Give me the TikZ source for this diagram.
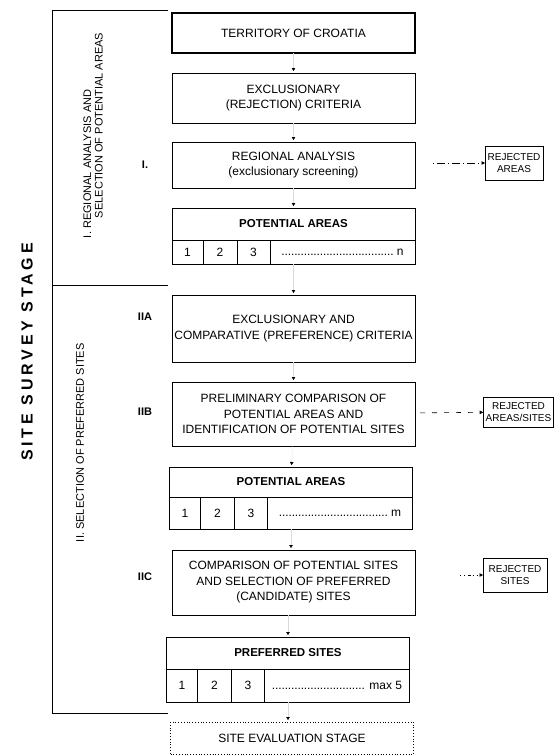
\documentclass[tikz,border=0pt]{standalone}
\usepackage{fontspec}
\setmainfont{Liberation Sans}
\usetikzlibrary{positioning}
\usetikzlibrary{arrows.meta}

\newcommand{\dotrow}[2]{\makebox[#1]{\leaders\hbox to 3.2pt{\hss.\hss}\hfill\,#2}}

\begin{document}
\begin{tikzpicture}[x=1pt,y=-1pt,
  every node/.style={font=\fontsize{12}{15.5}\selectfont,inner sep=0pt,outer sep=0pt},
  box/.style={draw,line width=0.8pt,minimum width=243pt,align=center},
  titlebox/.style={box,minimum height=32pt,font=\fontsize{11.5}{14}\selectfont\bfseries},
  cell/.style={draw,line width=0.8pt,minimum height=32pt},
  rejbox/.style={draw,line width=0.8pt,align=center,inner sep=2.5pt,font=\fontsize{10}{12.5}\selectfont},
  sect/.style={rotate=90,anchor=west,align=left,font=\fontsize{11}{11.5}\selectfont},
  lbl/.style={font=\fontsize{11}{13}\selectfont\bfseries},
  flow/.style={draw=black!15,line width=0.3pt,-{Triangle[length=3pt,width=3.5pt,color=black]},shorten >=2pt},
  rej/.style={line width=0.6pt,-{Triangle[length=3.5pt,width=3.5pt]}}]
\useasboundingbox (0,0) rectangle (555,756);

% bracket of the survey stage
\draw[line width=0.8pt] (168,10) -- (52,10) -- (52,713) -- (168,713);
\draw[line width=0.8pt] (52,285) -- (168,285);
\node[rotate=90,font=\fontsize{16}{19}\selectfont\bfseries\addfontfeatures{LetterSpace=24}] (stage) at (27,352) {SITE SURVEY STAGE};
\node[sect] (secI) at (93,238) {I. REGIONAL ANALYSIS AND\\\hspace*{20pt}SELECTION OF POTENTIAL AREAS};
\node[sect] (secII) at (80,542) {II. SELECTION OF PREFERRED SITES};

% stage I
\node[box,line width=1.6pt,minimum height=40pt] (terr) at (293.5,33) {TERRITORY OF CROATIA};
\node[box,minimum height=50pt] (excl) at (293.5,98) {EXCLUSIONARY\\(REJECTION) CRITERIA};
\node[box,minimum height=46pt] (reg) at (293.5,165) {REGIONAL ANALYSIS\\(exclusionary screening)};
\node[lbl] (lI) at (145,165) {I.};
\node[rejbox,minimum width=58pt,minimum height=34pt] (rej1) at (514,163) {REJECTED\\AREAS};

\node[titlebox] (pa1) at (293.5,224) {POTENTIAL AREAS};
\node[cell,minimum height=24pt,minimum width=31pt,anchor=north west] (pa1c1) at (pa1.south west) {1};
\node[cell,minimum height=24pt,minimum width=34pt,right=0pt of pa1c1] (pa1c2) {2};
\node[cell,minimum height=24pt,minimum width=33pt,right=0pt of pa1c2] (pa1c3) {3};
\node[cell,minimum height=24pt,minimum width=145pt,right=0pt of pa1c3] (pa1cn) {\dotrow{122pt}{n}};

% stage II
\node[box,minimum height=67pt] (eac) at (293.5,328.5) {EXCLUSIONARY AND\\COMPARATIVE (PREFERENCE) CRITERIA};
\node[lbl] (lIIA) at (145,317) {IIA};
\node[box,minimum height=64pt] (pre) at (293.5,414) {PRELIMINARY COMPARISON OF\\POTENTIAL AREAS AND\\IDENTIFICATION OF POTENTIAL SITES};
\node[lbl] (lIIB) at (145,412) {IIB};
\node[rejbox,minimum width=70pt,minimum height=30pt] (rej2) at (518.5,412) {REJECTED\\AREAS/SITES};

\node[titlebox,minimum height=30pt] (pa2) at (291,482) {POTENTIAL AREAS};
\node[cell,minimum width=31pt,anchor=north west] (pa2c1) at (pa2.south west) {1};
\node[cell,minimum width=34pt,right=0pt of pa2c1] (pa2c2) {2};
\node[cell,minimum width=33pt,right=0pt of pa2c2] (pa2c3) {3};
\node[cell,minimum width=145pt,right=0pt of pa2c3] (pa2cn) {\dotrow{122pt}{m}};

\node[box,minimum height=65pt] (cmp) at (293.5,582.5) {COMPARISON OF POTENTIAL SITES\\AND SELECTION OF PREFERRED\\(CANDIDATE) SITES};
\node[lbl] (lIIC) at (145,577) {IIC};
\node[rejbox,minimum width=64pt,minimum height=34pt] (rej3) at (515,575) {REJECTED\\SITES};

\node[titlebox] (pref) at (288,653) {PREFERRED SITES};
\node[cell,minimum height=33pt,minimum width=31pt,anchor=north west] (prc1) at (pref.south west) {1};
\node[cell,minimum height=33pt,minimum width=34pt,right=0pt of prc1] (prc2) {2};
\node[cell,minimum height=33pt,minimum width=33pt,right=0pt of prc2] (prc3) {3};
\node[cell,minimum height=33pt,minimum width=145pt,right=0pt of prc3] (prcn) {\dotrow{130pt}{max 5}};

\node[box,dotted,line width=1pt,minimum height=32pt] (eval) at (292,738) {SITE EVALUATION STAGE};

% connectors
\draw[flow] (terr) -- (excl);
\draw[flow] (excl) -- (reg);
\draw[flow] (reg) -- (pa1);
\draw[flow] (pa1.south |- pa1cn.south) -- (eac);
\draw[flow] (eac) -- (pre);
\draw[flow] (pre) -- (pa2);
\draw[flow] (pa2.south |- pa2cn.south) -- (cmp.north -| pa2.south);
\draw[flow] (cmp.south -| pref.north) -- (pref);
\draw[flow] (pref.south |- prcn.south) -- (eval.north -| pref.south);

\draw[rej,dash pattern=on 1pt off 3pt on 8pt off 3pt,shorten <=18pt] (reg.east |- rej1.west) -- (rej1);
\draw[rej,dash pattern=on 5pt off 7pt,shorten <=5pt] (pre) -- (rej2);
\draw[rej,dash pattern=on 1pt off 3pt on 1pt off 3pt on 3pt off 1.5pt,shorten <=45pt] (cmp.east |- rej3.west) -- (rej3);
\end{tikzpicture}
\end{document}
